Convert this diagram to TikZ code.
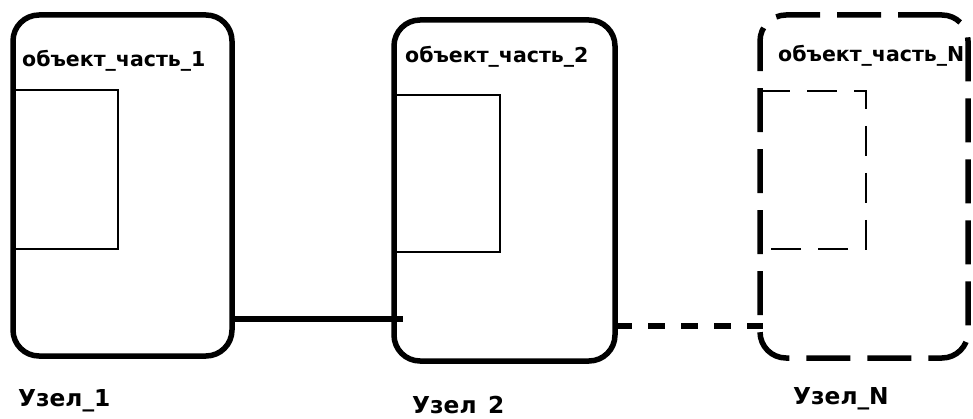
\documentclass[tikz,border=0pt]{standalone}
\usepackage{fontspec}
\setmainfont{DejaVu Sans}
\begin{document}
\begin{tikzpicture}[x=1pt,y=-1pt,
  nodebox/.style={draw, line width=5.5pt, rounded corners=26pt, inner sep=0pt, outer sep=0pt},
  partbox/.style={inner sep=0pt, outer sep=0pt},
  partline/.style={line width=1.4pt},
  conn/.style={line width=5.5pt},
  toplabel/.style={anchor=base west, inner sep=0pt, font=\fontsize{20.5}{24}\selectfont\bfseries},
  botlabel/.style={anchor=base west, inner sep=0pt, font=\fontsize{23.3}{28}\selectfont\bfseries}]
\useasboundingbox (0,0) rectangle (973,419);
% nodes
\node[nodebox, minimum width=219pt, minimum height=341pt] (box1) at (122.5,185.5) {};
\node[nodebox, minimum width=221pt, minimum height=341pt] (box2) at (504.5,190.5) {};
\node[nodebox, dash pattern=on 44pt off 17pt, minimum width=208pt, minimum height=343pt] (boxN) at (864,186.5) {};
% inner parts
\node[partbox, minimum width=105pt, minimum height=159pt] (p1) at (65.5,169.5) {};
\node[partbox, minimum width=106pt, minimum height=157pt] (p2) at (447,173.5) {};
\node[partbox, minimum width=106pt, minimum height=158pt] (pN) at (813,170) {};
\draw[partline] (p1.north west) -- (p1.north east) -- (p1.south east) -- (p1.south west);
\draw[partline] (p2.north west) -- (p2.north east) -- (p2.south east) -- (p2.south west);
\draw[partline, dash pattern=on 30pt off 17pt] (pN.north west) -- (pN.north east) -- (pN.south east) -- (pN.south west);
% labels
\node[toplabel] (t1) at (22,67) {объект\_часть\_1};
\node[toplabel] (t2) at (405,63) {объект\_часть\_2};
\node[toplabel] (tN) at (778,62) {объект\_часть\_N};
\node[botlabel] (l1) at (18,406) {Узел\_1};
\node[botlabel] (l2) at (412,413) {Узел\hphantom{\_}2};
\node[botlabel] (lN) at (793,404) {Узел\_N};
% connectors
\draw[conn] (box1.east |- 0,319) -- ([xshift=9pt]box2.west |- 0,319);
\draw[conn, dash pattern=on 17pt off 16pt] (box2.east |- 0,326) -- ([xshift=3pt]boxN.west |- 0,326);
\end{tikzpicture}
\end{document}
